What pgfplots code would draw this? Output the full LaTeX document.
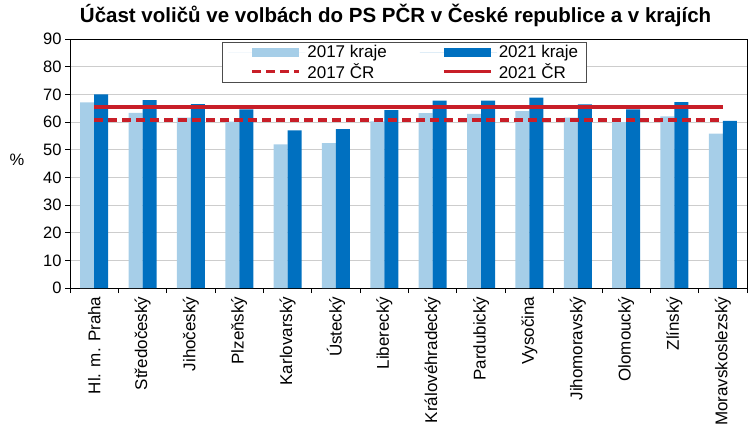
\documentclass[border=0pt]{standalone}
\usepackage{fontspec}
\setmainfont{Liberation Sans}
\usepackage{pgfplots}
\pgfplotsset{compat=1.18}
\definecolor{lblue}{RGB}{166,206,232}
\definecolor{dblue}{RGB}{0,112,192}
\definecolor{cred}{RGB}{200,30,40}
\definecolor{gridc}{RGB}{205,205,205}
\begin{document}
\begin{tikzpicture}
\begin{axis}[
  at={(0pt,0pt)}, anchor=south west,
  scale only axis, width=677pt, height=249pt,
  xmin=-0.5, xmax=13.5, ymin=0, ymax=90,
  ytick={0,10,...,90},
  xtick={0,...,13},
  xticklabels={Hl. m. Praha,Středočeský,Jihočeský,Plzeňský,Karlovarský,Ústecký,Liberecký,Královéhradecký,Pardubický,Vysočina,Jihomoravský,Olomoucký,Zlínský,Moravskoslezský},
  minor xtick={-0.5,0.5,...,13.5},
  major x tick style={draw=none},
  minor tick length=5pt, major tick length=5pt,
  tick align=outside, xtick pos=bottom, ytick pos=left,
  ymajorgrids, major grid style={gridc, line width=0.8pt},
  axis line style={black, line width=0.8pt},
  tick style={black, line width=0.8pt},
  /pgf/number format/assume math mode=true,
  yticklabel style={font=\fontsize{16.5}{18}\selectfont},
  xticklabel style={rotate=90, anchor=east, font=\fontsize{17}{19}\selectfont},
  legend style={at={(0.2245,0.988)}, anchor=north west, draw=black!70, line width=0.8pt,
    font=\fontsize{17}{19}\selectfont, inner xsep=6pt, inner ysep=1pt,
    /tikz/every even column/.append style={column sep=31pt}},
  legend columns=2, legend cell align=left,
]
\addplot[ybar, bar width=14pt, bar shift=-7pt, fill=lblue, draw=none,
  legend image code/.code={\path[draw=none] (0pt,0pt) -- (77pt,0pt);\fill[lblue] (24pt,-4.5pt) rectangle (71pt,4.5pt);}]
  coordinates {(0,67.1) (1,63.3) (2,61.6) (3,60.1) (4,51.9) (5,52.4) (6,60.2) (7,63.2) (8,62.9) (9,63.9) (10,61.6) (11,60.0) (12,62.0) (13,55.8)};
\addlegendentry{2017 kraje}
\addplot[ybar, bar width=14pt, bar shift=7pt, fill=dblue, draw=none,
  legend image code/.code={\path[draw=none] (0pt,0pt) -- (77pt,0pt);\fill[dblue] (24pt,-4.5pt) rectangle (71pt,4.5pt);}]
  coordinates {(0,70.0) (1,67.9) (2,66.5) (3,64.6) (4,57.0) (5,57.4) (6,64.3) (7,67.7) (8,67.7) (9,68.8) (10,66.4) (11,64.6) (12,67.2) (13,60.4)};
\addlegendentry{2021 kraje}
\addplot[cred, line width=3.5pt, dash pattern=on 9pt off 5pt, mark=none,
  legend image code/.code={\path[draw=none] (0pt,0pt) -- (77pt,0pt);\draw[cred, line width=3.5pt, dash pattern=on 9pt off 5pt] (24pt,0pt) -- (71pt,0pt);}]
  coordinates {(0,60.8) (13,60.8)};
\addlegendentry{2017 ČR}
\addplot[cred, line width=3.5pt, mark=none,
  legend image code/.code={\path[draw=none] (0pt,0pt) -- (77pt,0pt);\draw[cred, line width=3.5pt] (24pt,0pt) -- (71pt,0pt);}]
  coordinates {(0,65.4) (13,65.4)};
\addlegendentry{2021 ČR}
\end{axis}
\node[font=\bfseries\fontsize{20.5}{22}\selectfont] at (325.6pt,273pt) {Účast voličů ve volbách do PS PČR v České republice a v krajích};
\node[font=\fontsize{16.5}{18}\selectfont] at (-53pt,128pt) {\%};
\pgfresetboundingbox
\path (-70pt,-141pt) rectangle (684pt,288pt);
\end{tikzpicture}
\end{document}
